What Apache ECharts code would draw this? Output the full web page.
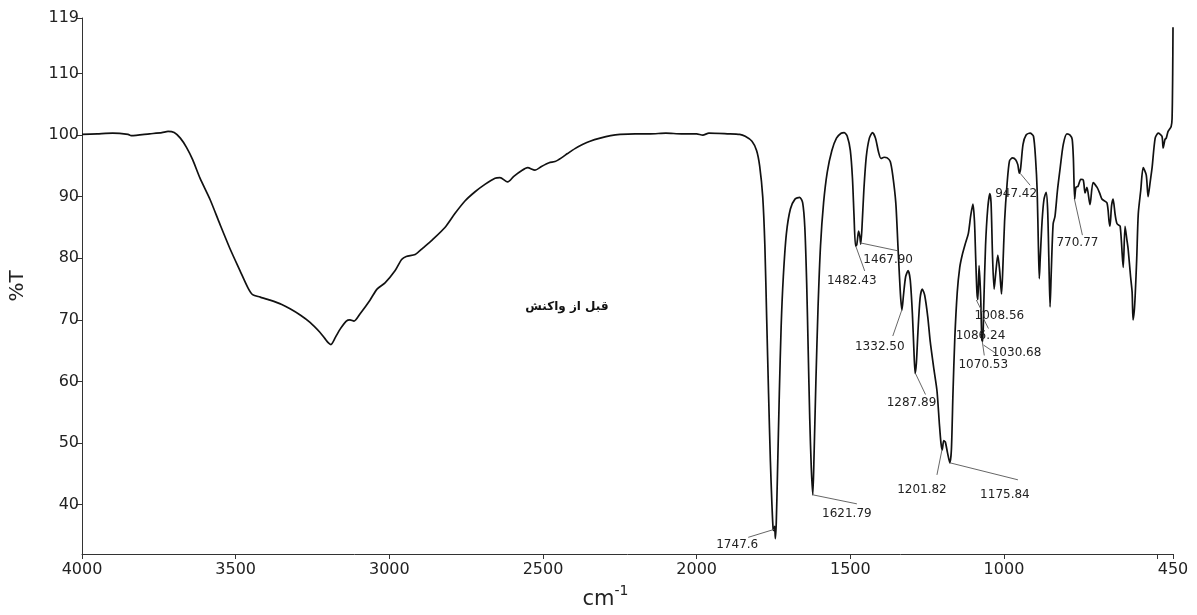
<!DOCTYPE html>
<html>
<head>
<meta charset="utf-8">
<script src="https://cdn.jsdelivr.net/npm/echarts@6/dist/echarts.min.js"></script>
<style>html,body{margin:0;padding:0;background:#fff;}#chart{width:1197px;height:615px;}</style>
</head>
<body>
<div id="chart"></div>
<script>
// Spectrum (wavenumber cm-1, %T)
const wavenumbers = [4000,3950,3900,3850,3840,3780,3740,3720,3700,3680,3660,3640,3616,3583,3551,3518,3486,3460,3445,3420,3388,3350,3323,3290,3258,3226,3210,3199,3190,3175,3160,3140,3128,3115,3095,3063,3040,3014,2981,2960,2945,2916,2890,2860,2819,2786,2754,2721,2689,2656,2640,2615,2595,2570,2550,2526,2505,2480,2461,2440,2420,2396,2370,2347,2314,2280,2249,2200,2150,2100,2050,2000,1980,1960,1900,1860,1842,1820,1805,1795,1785,1778,1772,1766,1760,1755,1751,1748,1746,1744,1741,1737,1731,1725,1718,1708,1695,1680,1665,1655,1648,1642,1637,1632,1627,1622,1618,1612,1605,1597,1587,1575,1560,1545,1530,1520,1510,1500,1493,1488,1483,1479,1473,1469,1466,1462,1456,1448,1438,1428,1418,1408,1400,1390,1380,1370,1362,1352,1345,1340,1336,1332,1327,1320,1312,1305,1298,1293,1289,1285,1280,1273,1266,1258,1248,1240,1228,1218,1210,1205,1201,1196,1191,1184,1176,1171,1166,1160,1152,1144,1136,1125,1116,1108,1101,1096,1092,1088,1085,1081,1076,1072,1069,1066,1060,1053,1046,1042,1037,1032,1027,1020,1014,1008,1004,998,990,982,972,962,955,950,946,938,928,915,904,897,892,888,885,882,876,870,863,858,854,850,846,840,834,826,817,807,795,785,778,774,770,766,759,750,742,736,730,720,710,697,688,681,665,658,655,650,645,638,632,622,612,606,600,596,588,583,580,576,573,568,563,555,547,537,531,524,518,508,498,486,482,476,472,466,456,453,451,450];
const transmittance = [100.1,100.2,100.3,100.1,99.9,100.2,100.4,100.6,100.4,99.5,98,96,93,89.5,85.5,81.5,78,75.2,74.1,73.7,73.2,72.5,71.8,70.8,69.6,68,67,66.3,66,67.2,68.5,69.8,70,69.8,71,73.2,75,76,78,79.8,80.3,80.6,81.7,83,85,87.3,89.3,90.8,92,93,93.1,92.4,93.3,94.2,94.7,94.3,94.9,95.5,95.7,96.3,97,97.8,98.5,99,99.5,99.9,100.1,100.2,100.2,100.3,100.2,100.2,100,100.3,100.2,100.1,99.8,99,97.5,95,90,82,70,58,47,40,36,35.8,36.5,34.5,37,45,58,69,77,84,88,89.6,89.9,89,85,76,65,54,46,41.6,48,60,72,82,89,94,97.5,99.5,100.3,100.4,99.8,97.5,93,87,82,82.2,84.4,83.5,82.3,85,91,96.5,99.5,100.4,99.5,97.2,96.2,96.4,96.3,95.7,93.5,89,82,77,73.5,71.6,74,77,78,76.5,71,65,61.3,63,68,73.5,75,74,70.5,66.5,62,58.5,53,50,48.9,50.4,50.2,48.5,46.8,49,58,67,74.5,78.5,80.5,82.5,84,87,88.8,86,80,74.5,73.3,78.8,74,66.8,66.5,72,82,88,90.5,89,80,75,77.5,80.5,78,74.2,78,86,92,95.8,96.3,96,95.2,93.8,94.5,98.5,100,100.3,99.8,96,91,82,76.7,80,86,89.5,90.7,88,80,72.1,78,85.6,86.8,91,94.7,98.5,100.2,100,99.3,96,89.6,91.5,91.7,92.8,92.7,90.6,91.5,88.7,92.3,91.5,90.5,89.6,89,86,85.2,88.5,89.6,87,85.6,85.2,78.5,85.2,83,81.5,77,74.5,70,71.5,74,80,87.2,91,94.7,93.5,90,92.5,94.7,99.5,100.3,99.8,97.9,99.3,99.5,100.6,101.4,102.7,110,117.5];

// Axis ticks / labels
const xTickValues = [4000,3500,3000,2500,2000,1500,1000,500,450];
const xLabelValues = [4000,3500,3000,2500,2000,1500,1000,450];
const yLabelValues = [40,50,60,70,80,90,100,110,119];

// Peak annotations
const peakNames = ['1747.6','1621.79','1482.43','1467.90','1332.50','1287.89','1201.82','1175.84','1086.24','1070.53','1030.68','1008.56','947.42','770.77'];
const peakWn = [1747.6,1621.79,1482.43,1467.90,1332.50,1287.89,1201.82,1175.84,1086.24,1070.53,1030.68,1008.56,947.42,770.77];
const peakT = [36,41.6,82,82.5,71.6,61.3,48.9,46.8,73.3,66.5,75,74.2,93.8,89.6];
const noteText = 'قبل از واکنش';
const notePos = [2422, 72.1];

// Layout (pixel offsets from each peak): leader start, leader end, text centre
const leaderFrom = [[0,0],[0,0],[0,0],[0,0],[0,0],[0,0],[0,0],[0,0],[6,19],[0,0],[-11,56],[-25,6],[0,0],[0,0]];
const leaderTo = [[-26,8],[44,9],[9,25],[38,8],[-9,26],[10,21],[-5,25],[68,17],[11,29],[2,14],[1,64],[-19,18],[10,12],[8,36]];
const textAt = [[-37,16],[34,19],[-4,35],[28,17],[-22,37],[-4,29],[-20,40],[55,32],[3,36],[1,23],[22,64],[-2,22],[-4,21],[3,44]];

const spectrum = wavenumbers.map((w, i) => [w, transmittance[i]]);
const peaks = peakWn.map((w, i) => [w, peakT[i]]);

const chart = echarts.init(document.getElementById('chart'));
const axisColor = '#333';
chart.setOption({
  animation: false,
  backgroundColor: '#fff',
  grid: { left: 82, right: 24, top: 18, bottom: 52 },
  xAxis: {
    type: 'value', inverse: true, min: 450, max: 4000,
    name: '{a|cm}{b|-1}', nameLocation: 'middle', nameGap: 30,
    nameTextStyle: { padding: [0, 44, 0, 0], rich: {
      a: { fontSize: 21, fontFamily: 'DejaVu Sans', color: '#222', verticalAlign: 'bottom' },
      b: { fontSize: 14, fontFamily: 'DejaVu Sans', color: '#222', verticalAlign: 'top', padding: [0,0,12,0] } } },
    axisLine: { lineStyle: { color: axisColor, width: 1 } },
    axisTick: { show: true, length: 5, customValues: xTickValues, lineStyle: { color: axisColor } },
    axisLabel: { customValues: xLabelValues, formatter: v => String(v), fontSize: 16, fontFamily: 'DejaVu Sans', color: '#222', margin: 8 },
    splitLine: { show: false }
  },
  yAxis: {
    type: 'value', min: 32, max: 119,
    name: '%T', nameLocation: 'middle', nameGap: 54, nameRotate: 90,
    nameTextStyle: { fontSize: 20, fontFamily: 'DejaVu Sans', color: '#222' },
    axisLine: { show: true, lineStyle: { color: axisColor, width: 1 } },
    axisTick: { show: true, length: 6, customValues: yLabelValues, lineStyle: { color: axisColor } },
    axisLabel: { customValues: yLabelValues, formatter: v => String(v), fontSize: 16, fontFamily: 'DejaVu Sans', color: '#222', margin: 3 },
    splitLine: { show: false }
  },
  series: [
    {
      type: 'line', data: spectrum, showSymbol: false, symbol: 'none', smooth: 0.25,
      lineStyle: { color: '#111', width: 1.7 }, silent: true, z: 3
    },
    {
      type: 'custom', data: peaks, silent: true, z: 4,
      renderItem: function (params, api) {
        const i = params.dataIndex;
        const p = api.coord([api.value(0), api.value(1)]);
        const f = leaderFrom[i], t = leaderTo[i], c = textAt[i];
        return {
          type: 'group',
          children: [
            { type: 'line', shape: { x1: p[0] + f[0], y1: p[1] + f[1], x2: p[0] + t[0], y2: p[1] + t[1] },
              style: { stroke: '#555', lineWidth: 0.9 } },
            { type: 'text', style: { text: peakNames[i], x: p[0] + c[0], y: p[1] + c[1], align: 'center', verticalAlign: 'middle',
              fontSize: 12, fontFamily: 'DejaVu Sans', fill: '#222' } }
          ]
        };
      }
    },
    {
      type: 'custom', data: [notePos], silent: true, z: 4,
      renderItem: function (params, api) {
        const p = api.coord([api.value(0), api.value(1)]);
        return { type: 'text', style: { text: noteText, x: p[0], y: p[1], align: 'center', verticalAlign: 'middle',
          fontSize: 12, fontWeight: 'bold', fontFamily: 'DejaVu Sans', fill: '#111' } };
      }
    }
  ]
});
</script>
</body>
</html>
